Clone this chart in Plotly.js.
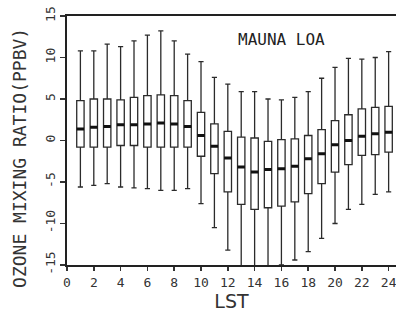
<!DOCTYPE html>
<html>
<head>
<meta charset="utf-8">
<script src="https://cdn.plot.ly/plotly-3.0.1.min.js"></script>
<style>
  html, body { margin: 0; padding: 0; background: #fff; }
  #chart { width: 396px; height: 315px; }
</style>
</head>
<body>
<div id="chart"></div>
<script>
// Local standard time (hour)
var hours = [1,2,3,4,5,6,7,8,9,10,11,12,13,14,15,16,17,18,19,20,21,22,23,24];
// Box statistics of ozone mixing ratio (ppbv)
var upperWhisker = [10.8,10.8,11.6,11.3,12.0,12.7,13.2,12.0,10.4,9.5,7.6,6.8,5.9,5.9,5.0,4.9,5.2,5.9,7.5,8.8,9.9,9.8,10.0,10.7];
var q3Values     = [4.8,5.0,5.0,4.9,5.2,5.4,5.5,5.4,4.8,3.4,2.0,1.1,0.4,0.3,-0.1,0.1,0.2,0.6,1.3,2.4,3.1,3.8,4.0,4.1];
var medianValues = [1.4,1.6,1.7,1.9,1.9,2.0,2.1,2.0,1.7,0.6,-0.7,-2.1,-3.2,-3.8,-3.5,-3.4,-3.1,-2.2,-1.6,-0.5,0.0,0.5,0.8,1.0];
var q1Values     = [-0.8,-0.8,-0.8,-0.6,-0.6,-0.8,-0.8,-0.8,-0.8,-1.9,-4.0,-6.2,-7.7,-8.3,-8.1,-7.9,-7.4,-6.4,-5.2,-3.8,-2.9,-1.8,-1.7,-1.4];
var lowerWhisker = [-5.6,-5.4,-5.2,-5.6,-5.7,-5.8,-6.0,-6.0,-5.8,-7.6,-10.5,-13.2,-15.1,-15.5,-15.5,-15.0,-14.4,-13.4,-11.8,-10.0,-8.3,-7.7,-6.5,-6.2];
var xTickVals = [0,2,4,6,8,10,12,14,16,18,20,22,24];
var yTickVals = [-15,-10,-5,0,5,10,15];
var stationLabel = 'MAUNA LOA';

var FONT = 'DejaVu Sans Mono, monospace';

var boxes = {
  type: 'box',
  x: hours,
  q1: q1Values,
  median: medianValues,
  q3: q3Values,
  lowerfence: lowerWhisker,
  upperfence: upperWhisker,
  width: 0.55,
  whiskerwidth: 0.7,
  boxpoints: false,
  fillcolor: '#ffffff',
  line: { color: '#2b2b2b', width: 1.3 },
  hoverinfo: 'skip',
  showlegend: false
};

// thick median bars drawn from the same median array
var medians = {
  type: 'box',
  x: hours,
  q1: medianValues,
  median: medianValues,
  q3: medianValues,
  lowerfence: medianValues,
  upperfence: medianValues,
  width: 0.55,
  whiskerwidth: 0,
  boxpoints: false,
  fillcolor: 'rgba(0,0,0,0)',
  line: { color: '#111', width: 3 },
  hoverinfo: 'skip',
  showlegend: false
};

var layout = {
  width: 396,
  height: 315,
  margin: { l: 67, r: 0, t: 16, b: 50 },
  paper_bgcolor: '#ffffff',
  plot_bgcolor: '#ffffff',
  showlegend: false,
  boxmode: 'overlay',
  font: { family: FONT, color: '#222' },
  xaxis: {
    range: [0, 24.55],
    tickvals: xTickVals,
    ticktext: xTickVals.map(String),
    ticks: 'outside',
    ticklen: 4,
    tickwidth: 1.5,
    tickcolor: '#333',
    ticklabeloverflow: 'allow',
    showline: true,
    linewidth: 2.2,
    linecolor: '#222',
    mirror: true,
    showgrid: false,
    zeroline: false,
    tickfont: { family: FONT, size: 13, color: '#333' },
    title: { text: 'LST', font: { family: 'DejaVu Sans, sans-serif', size: 19, color: '#333' }, standoff: 4 }
  },
  yaxis: {
    range: [-15, 15],
    tickvals: yTickVals,
    ticktext: yTickVals.map(String),
    tickangle: -90,
    ticks: 'outside',
    ticklen: 5,
    tickwidth: 1.5,
    tickcolor: '#333',
    showline: true,
    linewidth: 2.2,
    linecolor: '#222',
    showgrid: false,
    zeroline: false,
    tickfont: { family: FONT, size: 13, color: '#333' }
  },
  annotations: [
    {
      text: stationLabel,
      xref: 'paper', yref: 'paper',
      x: 0.653, y: 0.904,
      xanchor: 'center', yanchor: 'middle',
      showarrow: false,
      font: { family: FONT, size: 16, color: '#222' }
    },
    {
      text: 'OZONE MIXING RATIO(PPBV)',
      xref: 'paper', yref: 'paper',
      x: 0, y: 0.43,
      xshift: -47,
      xanchor: 'center', yanchor: 'middle',
      textangle: -90,
      showarrow: false,
      font: { family: FONT, size: 18, color: '#333' }
    }
  ]
};

Plotly.newPlot('chart', [boxes, medians], layout, { staticPlot: true, displayModeBar: false });
</script>
</body>
</html>
